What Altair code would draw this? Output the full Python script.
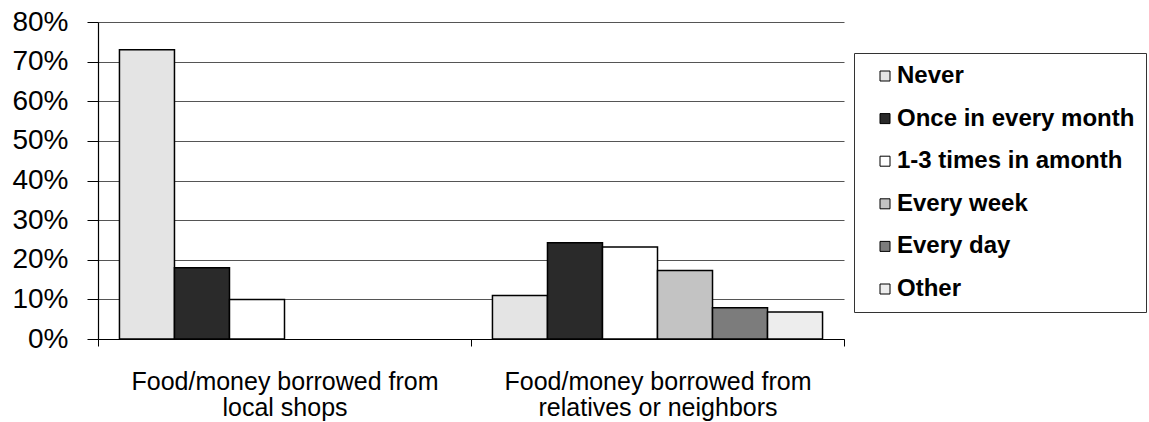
import altair as alt
import pandas as pd

# Borrowing sources (x categories), each split into two display lines
groups = [
    "Food/money borrowed from\nlocal shops",
    "Food/money borrowed from\nrelatives or neighbors",
]

# How often food/money was borrowed (series)
frequencies = [
    "Never",
    "Once in every month",
    "1-3 times in amonth",
    "Every week",
    "Every day",
    "Other",
]

# Share of households (%) per frequency
local_shops_pct = [73, 18, 10]
relatives_pct = [11, 24.3, 23.2, 17.3, 7.9, 6.8]

fills = ["#e4e4e4", "#2a2a2a", "#ffffff", "#c3c3c3", "#7c7c7c", "#ededed"]
y_ticks = [0, 0.1, 0.2, 0.3, 0.4, 0.5, 0.6, 0.7, 0.8]

rows = []
for freq, pct in zip(frequencies, local_shops_pct):
    rows.append({"group": groups[0], "freq": freq, "share": pct / 100})
for freq, pct in zip(frequencies, relatives_pct):
    rows.append({"group": groups[1], "freq": freq, "share": pct / 100})
df = pd.DataFrame(rows)

FONT = "Liberation Sans"

bars = alt.Chart(df).mark_bar(stroke="black", strokeWidth=1.5).encode(
    x=alt.X(
        "group:N",
        sort=groups,
        title=None,
        scale=alt.Scale(domain=groups, paddingInner=0, paddingOuter=0),
        axis=alt.Axis(
            labelAngle=0,
            labelExpr="split(datum.label, '\\n')",
            labelFont=FONT,
            labelFontSize=25,
            labelColor="black",
            labelLineHeight=26,
            labelBaseline="top",
            labelPadding=23,
            labelLimit=500,
            tickBand="extent",
            tickSize=7,
            tickColor="black",
            domainColor="black",
            domainWidth=1.2,
            grid=False,
        ),
    ),
    xOffset=alt.XOffset(
        "freq:N",
        sort=frequencies,
        scale=alt.Scale(domain=frequencies, paddingInner=0, paddingOuter=0.39),
    ),
    y=alt.Y(
        "share:Q",
        title=None,
        scale=alt.Scale(domain=[0, 0.8], nice=False),
        axis=alt.Axis(
            values=y_ticks,
            format=".0%",
            labelFont=FONT,
            labelFontSize=28,
            labelColor="black",
            labelPadding=19,
            tickSize=11,
            tickColor="black",
            domainColor="black",
            domainWidth=1.2,
            gridColor="#555555",
            gridWidth=1,
        ),
    ),
    color=alt.Color(
        "freq:N",
        sort=frequencies,
        scale=alt.Scale(domain=frequencies, range=fills),
        legend=alt.Legend(
            title=None,
            orient="none",
            legendX=756,
            legendY=31,
            strokeColor="#333333",
            fillColor="white",
            padding=11,
            symbolOffset=8,
            symbolType="square",
            symbolSize=100,
            symbolStrokeColor="black",
            symbolStrokeWidth=1,
            symbolOpacity=1,
            labelFont=FONT,
            labelFontSize=24,
            labelFontWeight="bold",
            labelColor="black",
            labelOffset=0,
            labelLimit=400,
            rowPadding=18.6,
        ),
    ),
)

chart = bars.properties(
    width=746,
    height=317,
    padding={"left": 98, "top": 22, "right": 305, "bottom": 83},
    autosize=alt.AutoSizeParams(type="none"),
    background="white",
).configure_view(stroke=None)

chart.save("out.html", embed_options={"renderer": "svg", "actions": False})
